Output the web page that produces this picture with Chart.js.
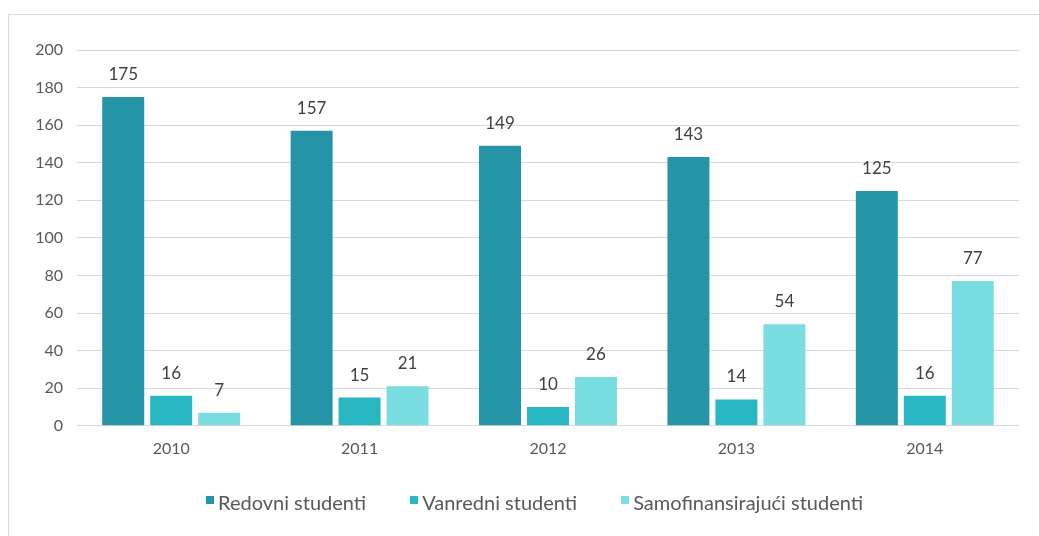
<!DOCTYPE html>
<html>
<head>
<meta charset="utf-8">
<script src="https://cdn.jsdelivr.net/npm/chart.js@4/dist/chart.umd.min.js"></script>
<style>
  html, body { margin: 0; padding: 0; background: #fff; }
  #frame {
    position: absolute; left: 8px; top: 14px; width: 1100px; height: 600px;
    border-left: 1px solid #d9d9d9; border-top: 1px solid #d9d9d9;
  }
  #wrap { position: absolute; left: 0; top: 0; width: 1039px; height: 536px; }
  #legend {
    position: absolute; left: 206px; top: 490px; display: flex;
    font-family: Lato, 'Open Sans', sans-serif; font-size: 20px; color: #595959;
  }
  #legend .item { display: flex; align-items: flex-start; margin-right: 44px; line-height: 24px; }
  #legend .box { width: 8px; height: 8px; margin-top: 6px; margin-right: 4px; }
</style>
</head>
<body>
<div id="frame"></div>
<div id="wrap"><canvas id="chartStudents"></canvas></div>
<div id="legend"></div>
<script>
const years = ["2010", "2011", "2012", "2013", "2014"];
const seriesNames = ["Redovni studenti", "Vanredni studenti", "Samofinansirajući studenti"];
const redovni = [175, 157, 149, 143, 125];
const vanredni = [16, 15, 10, 14, 16];
const samofinansirajuci = [7, 21, 26, 54, 77];

const colors = ["#2494a6", "#29b8c2", "#7adde1"];
const fontFamily = "Lato, 'Open Sans', sans-serif";

// value labels above bars
const barValues = {
    id: 'barValues',
    afterDatasetsDraw(chart) {
        const ctx = chart.ctx;
        ctx.save();
        ctx.font = "17px " + fontFamily;
        ctx.fillStyle = "#404040";
        ctx.textAlign = "center";
        ctx.textBaseline = "bottom";
        chart.data.datasets.forEach((ds, i) => {
            chart.getDatasetMeta(i).data.forEach((bar, j) => {
                ctx.fillText(ds.data[j], bar.x, bar.y - 14);
            });
        });
        ctx.restore();
    }
};

const ctx = document.getElementById("chartStudents").getContext('2d');

const chart = new Chart(ctx, {
    type: "bar",
    data: {
        labels: years,
        datasets: [
            { label: seriesNames[0], data: redovni, backgroundColor: colors[0] },
            { label: seriesNames[1], data: vanredni, backgroundColor: colors[1] },
            { label: seriesNames[2], data: samofinansirajuci, backgroundColor: colors[2] }
        ]
    },
    options: {
        responsive: true,
        maintainAspectRatio: false,
        animation: false,
        categoryPercentage: 0.764,
        barPercentage: 0.875,
        layout: { padding: { left: 0, right: 20, top: 50, bottom: 73 } },
        scales: {
            x: {
                grid: { display: false },
                border: { display: false },
                ticks: { color: "#595959", font: { size: 16, family: fontFamily }, padding: 5 }
            },
            y: {
                min: 0,
                max: 200,
                ticks: { stepSize: 20, color: "#595959", font: { size: 16, family: fontFamily }, padding: 14 },
                grid: { color: "#d9d9d9", drawTicks: false },
                border: { display: false },
                afterFit(scale) { scale.width = 77; }
            }
        },
        plugins: {
            legend: { display: false },
            tooltip: { enabled: false }
        }
    },
    plugins: [barValues]
});

// html legend
const legendEl = document.getElementById("legend");
chart.data.datasets.forEach((ds) => {
    const item = document.createElement("div");
    item.className = "item";
    const box = document.createElement("span");
    box.className = "box";
    box.style.background = ds.backgroundColor;
    const text = document.createElement("span");
    text.textContent = ds.label;
    item.appendChild(box);
    item.appendChild(text);
    legendEl.appendChild(item);
});
</script>
</body>
</html>
